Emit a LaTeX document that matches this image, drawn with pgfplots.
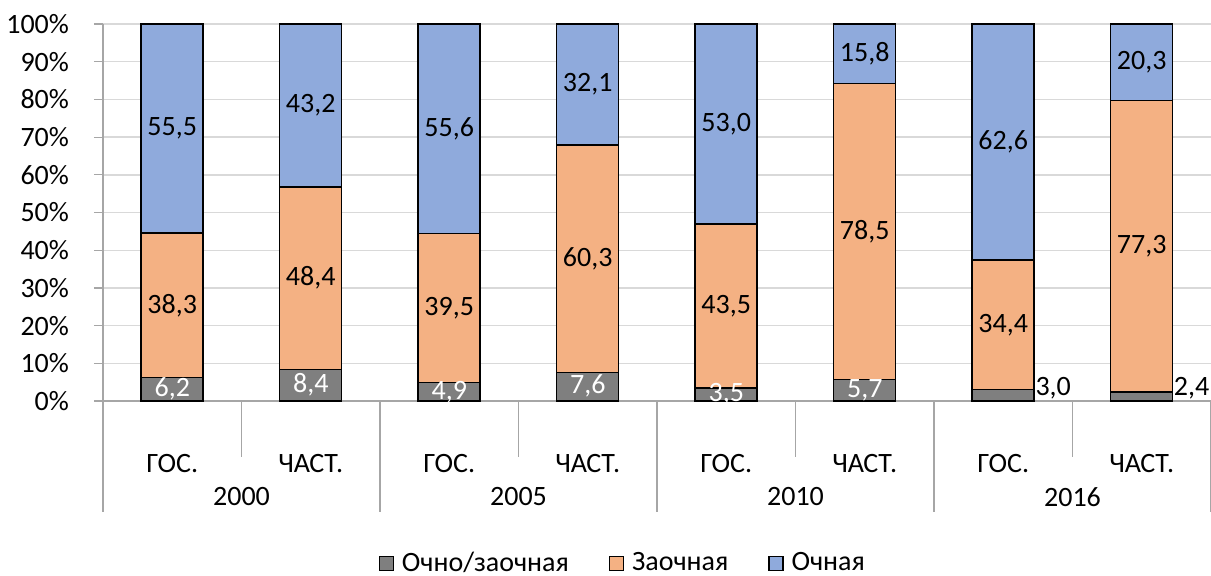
\documentclass[border=0pt]{standalone}
\usepackage{fontspec}
\setmainfont{Carlito}
\usepackage{pgfplots}
\usepackage{pgfplotstable}
\pgfplotsset{compat=1.18}
\definecolor{cmix}{HTML}{7F7F7F}
\definecolor{czaoch}{HTML}{F4B183}
\definecolor{coch}{HTML}{8FAADC}
\definecolor{gridc}{HTML}{D9D9D9}
\definecolor{axc}{HTML}{A6A6A6}

\pgfplotstableread{
x mix zaoch och
0 6.2 38.3 55.5
1 8.4 48.4 43.2
2 4.9 39.5 55.6
3 7.6 60.3 32.1
4 3.5 43.5 53.0
5 5.7 78.5 15.8
6 3.0 34.4 62.6
7 2.4 77.3 20.3
}\datatable

\tikzset{lbl/.style={font=\fontsize{14}{16}\selectfont, inner sep=0pt},
         sep/.style={axc, line width=0.7pt}}

\begin{document}
\begin{tikzpicture}
\useasboundingbox (-51.5pt,-87pt) rectangle (554pt,200.5pt);
\begin{axis}[
    at={(0,0)}, anchor=south west,
    width=554pt, height=188.5pt, scale only axis,
    ybar stacked, bar width=31pt,
    xmin=-0.5, xmax=7.5, ymin=0, ymax=100,
    xtick={0,...,7},
    xticklabels={ГОС.,ЧАСТ.,ГОС.,ЧАСТ.,ГОС.,ЧАСТ.,ГОС.,ЧАСТ.},
    xticklabel style={anchor=center, yshift=-27pt},
    x tick style={draw=none},
    ytick={0,10,...,100},
    yticklabels={0\%,10\%,20\%,30\%,40\%,50\%,60\%,70\%,80\%,90\%,100\%},
    yticklabel style={xshift=-9pt},
    tick label style={font=\fontsize{14}{16}\selectfont},
    y tick style={draw=axc, line width=0.6pt},
    tick align=outside, major tick length=4.5pt,
    ymajorgrids, grid style={gridc, line width=0.7pt},
    axis x line*=bottom, axis y line*=left,
    axis line style={draw=axc, line width=0.7pt, -},
    clip=false,
    legend style={at={(0.47,-0.43)}, anchor=center, draw=none,
        font=\fontsize{14}{16}\selectfont, legend columns=3,
        /tikz/every even column/.append style={column sep=18pt}},
    legend image code/.code={\draw[#1, line width=0.6pt] (0pt,-3.5pt) rectangle (7pt,3.5pt);},
]
\addplot[fill=cmix, draw=black, line width=0.75pt] table[x=x, y=mix] {\datatable};
\addlegendentry{\hspace{2pt}Очно/заочная}
\addplot[fill=czaoch, draw=black, line width=0.75pt] table[x=x, y=zaoch] {\datatable};
\addlegendentry{\hspace{2pt}Заочная}
\addplot[fill=coch, draw=black, line width=0.75pt] table[x=x, y=och] {\datatable};
\addlegendentry{\hspace{2pt}Очная}

% anchor points for the category axis and the value labels
\coordinate (s0) at (axis cs:-0.5,0);
\coordinate (s1) at (axis cs:0.5,0);
\coordinate (s2) at (axis cs:1.5,0);
\coordinate (s3) at (axis cs:2.5,0);
\coordinate (s4) at (axis cs:3.5,0);
\coordinate (s5) at (axis cs:4.5,0);
\coordinate (s6) at (axis cs:5.5,0);
\coordinate (s7) at (axis cs:6.5,0);
\coordinate (s8) at (axis cs:7.5,0);

\coordinate (a0) at (axis cs:0,3.3);
\coordinate (a1) at (axis cs:1,4.4);
\coordinate (a2) at (axis cs:2,2.45);
\coordinate (a3) at (axis cs:3,3.9);
\coordinate (a4) at (axis cs:4,1.75);
\coordinate (a5) at (axis cs:5,2.95);
\coordinate (a6) at (axis cs:6.23,3.4);
\coordinate (a7) at (axis cs:7.23,3.4);

\coordinate (b0) at (axis cs:0,25.35);
\coordinate (b1) at (axis cs:1,32.6);
\coordinate (b2) at (axis cs:2,24.65);
\coordinate (b3) at (axis cs:3,37.75);
\coordinate (b4) at (axis cs:4,25.25);
\coordinate (b5) at (axis cs:5,44.95);
\coordinate (b6) at (axis cs:6,20.2);
\coordinate (b7) at (axis cs:7,41.05);

\coordinate (c0) at (axis cs:0,72.25);
\coordinate (c1) at (axis cs:1,78.4);
\coordinate (c2) at (axis cs:2,72.2);
\coordinate (c3) at (axis cs:3,83.95);
\coordinate (c4) at (axis cs:4,73.5);
\coordinate (c5) at (axis cs:5,92.1);
\coordinate (c6) at (axis cs:6,68.7);
\coordinate (c7) at (axis cs:7,89.85);
\end{axis}

\foreach \i in {1,3,5,7} \draw[sep] (s\i) -- ++(0,-28pt);
\foreach \i in {0,2,4,6,8} \draw[sep] (s\i) -- ++(0,-55.5pt);
\foreach \i/\yr in {1/2000,3/2005,5/2010,7/2016}
  \node[lbl] at ([yshift=-48pt]s\i) {\yr};

\foreach \i/\t in {0/{6,2},1/{8,4},2/{4,9},3/{7,6},4/{3,5},5/{5,7}}
  \node[lbl, white] at (a\i) {\t};
\node[lbl, anchor=west] at (a6) {3,0};
\node[lbl, anchor=west] at (a7) {2,4};
\foreach \i/\t in {0/{38,3},1/{48,4},2/{39,5},3/{60,3},4/{43,5},5/{78,5},6/{34,4},7/{77,3}}
  \node[lbl] at (b\i) {\t};
\foreach \i/\t in {0/{55,5},1/{43,2},2/{55,6},3/{32,1},4/{53,0},5/{15,8},6/{62,6},7/{20,3}}
  \node[lbl] at (c\i) {\t};
\end{tikzpicture}
\end{document}
